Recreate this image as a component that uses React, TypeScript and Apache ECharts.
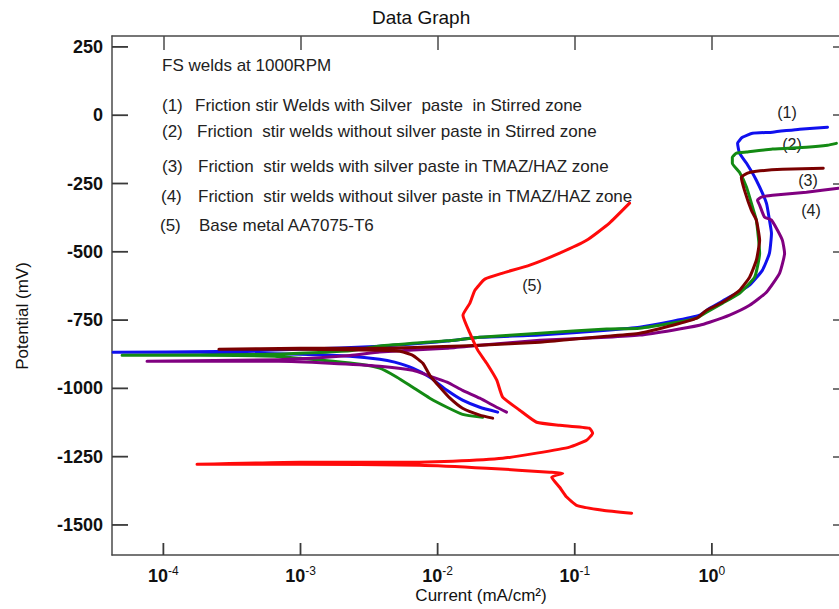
import React, { useEffect, useRef } from "react";
import * as echarts from "echarts";

// ---------- data ----------
const titleText = "Data Graph";
const xAxisTitle = "Current (mA/cm²)";
const yAxisTitle = "Potential (mV)";
const xMin = 4.22e-5;
const xMax = 10;
const yMin = -1610;
const yMax = 290;
const xDecadeTicks = [1e-4, 1e-3, 1e-2, 1e-1, 1];
const yTicks = [-1500, -1250, -1000, -750, -500, -250, 0, 250];

const noteHeading = "FS welds at 1000RPM";
const legendNumbers = ["(1)", "(2)", "(3)", "(4)", "(5)"];
const legendTexts = [
  "Friction stir Welds with Silver  paste  in Stirred zone",
  "Friction  stir welds without silver paste in Stirred zone",
  "Friction  stir welds with silver paste in TMAZ/HAZ zone",
  "Friction  stir welds without silver paste in TMAZ/HAZ zone",
  "Base metal AA7075-T6",
];

// [current mA/cm², potential mV] in scan order (cathodic end -> Ecorr -> anodic end)
const curve1 = [
  [0.0274, -1087], [0.0203, -1069], [0.0152, -1043], [0.0117, -1007], [0.00877, -959],
  [0.00658, -926], [0.00486, -904], [0.00378, -893], [0.00229, -882], [0.00099, -875],
  [0.000427, -871], [0.000185, -868], [0.000043, -868],
  [0.00025, -865], [0.00099, -857], [0.00378, -846], [0.0117, -827], [0.0203, -813],
  [0.0556, -805], [0.171, -787], [0.297, -776], [0.518, -754], [0.813, -732], [0.962, -707],
  [1.346, -666], [1.884, -622], [2.339, -567], [2.63, -505], [2.72, -432], [2.63, -384],
  [2.5, -322], [2.11, -238], [1.79, -176], [1.59, -139], [1.54, -103], [1.67, -81],
  [1.98, -66], [2.77, -62], [4.36, -51], [6.97, -44],
];

const curve2 = [
  [0.0213, -1106], [0.0152, -1095], [0.0117, -1069], [0.00877, -1036], [0.00658, -996],
  [0.00505, -959], [0.00378, -926], [0.00272, -912], [0.00173, -901], [0.00099, -890],
  [0.000649, -882], [0.000185, -879], [0.00005, -879],
  [0.00065, -875], [0.0023, -862], [0.00378, -845], [0.0117, -826], [0.0203, -813],
  [0.0556, -798], [0.171, -783], [0.297, -780], [0.518, -761], [0.774, -743], [0.915, -721],
  [1.197, -688], [1.59, -652], [2.05, -593], [2.23, -505], [2.11, -384], [1.98, -337],
  [1.79, -264], [1.59, -209], [1.41, -176], [1.41, -154], [1.51, -139], [1.79, -135],
  [2.77, -124], [4.89, -117], [6.97, -110], [8.09, -103],
];

const curve3 = [
  [0.0252, -1109], [0.0203, -1098], [0.0152, -1073], [0.0123, -1036], [0.0104, -996],
  [0.00877, -952], [0.0078, -908], [0.00658, -879], [0.00531, -864], [0.00378, -860],
  [0.00099, -857], [0.000254, -857],
  [0.00099, -853], [0.00378, -853], [0.0203, -842], [0.0556, -831], [0.096, -820],
  [0.171, -809], [0.297, -798], [0.518, -769], [0.774, -743], [0.915, -714], [1.197, -685],
  [1.59, -641], [1.884, -593], [2.11, -531], [2.23, -458], [2.11, -384], [1.94, -348],
  [1.73, -275], [1.64, -227], [1.82, -212], [2.11, -205], [3.27, -198], [6.49, -194],
];

const curve4 = [
  [0.0318, -1087], [0.0269, -1069], [0.0203, -1036], [0.0152, -1007], [0.0117, -977],
  [0.00877, -955], [0.00658, -934], [0.00378, -919], [0.00164, -908], [0.000695, -901],
  [0.000076, -901],
  [0.000695, -895], [0.0023, -880], [0.00378, -867], [0.0117, -853], [0.0203, -842],
  [0.0556, -824], [0.171, -813], [0.297, -805], [0.518, -787], [0.813, -769], [0.962, -758],
  [1.346, -732], [1.884, -696], [2.5, -648], [3.12, -578], [3.39, -505], [3.27, -458],
  [3.01, -421], [2.72, -384], [2.42, -373], [2.23, -329], [2.15, -311], [2.3, -300],
  [2.77, -293], [4.89, -282], [8.37, -267],
];

const curve5 = [
  [0.26, -1457], [0.16, -1446], [0.103, -1428], [0.0873, -1398], [0.0776, -1362],
  [0.0679, -1325], [0.0817, -1311], [0.0656, -1307], [0.0228, -1292], [0.0074, -1281],
  [0.00099, -1278], [0.000176, -1278],
  [0.00099, -1270], [0.0074, -1270], [0.0129, -1267], [0.0298, -1256], [0.0527, -1237],
  [0.0917, -1215], [0.122, -1190], [0.135, -1164], [0.128, -1146], [0.0776, -1135],
  [0.0527, -1124], [0.0397, -1080], [0.0298, -1032], [0.027, -970], [0.0228, -908],
  [0.0196, -860], [0.0172, -798], [0.0153, -732], [0.0172, -688], [0.0187, -641],
  [0.0221, -600], [0.0298, -578], [0.047, -549], [0.0776, -505], [0.122, -458],
  [0.179, -395], [0.251, -322],
];

const curveColors = ["#1010ee", "#138a13", "#800080", "#7a0000", "#ff0a0a"];

// ---------- component ----------
export default function App() {
  const ref = useRef<HTMLDivElement>(null);

  useEffect(() => {
    if (!ref.current) return;
    const chart = echarts.init(ref.current, null, { renderer: "svg" });
    const font = "'Liberation Sans', Arial, sans-serif";
    const axisColor = "#4a4a4a";

    const decadeFormatter = (v: number) => {
      const l = Math.log10(v);
      const e = Math.round(l);
      if (Math.abs(l - e) > 1e-6) return "";
      return `{b|10}{s|${e}}`;
    };

    const legendY = [105, 131, 166, 196, 225];
    const legendNumX = [162, 162, 162, 161, 160];
    const legendTextX = [195, 197, 198, 198, 199];

    const graphics: any[] = [
      {
        type: "text",
        x: 162,
        y: 65,
        style: { text: noteHeading, font: `17px ${font}`, fill: "#222", textVerticalAlign: "middle" },
      },
      {
        type: "text",
        x: 372,
        y: 17,
        style: { text: titleText, font: `19px ${font}`, fill: "#111", textVerticalAlign: "middle" },
      },
    ];
    legendNumbers.forEach((n, i) => {
      graphics.push({
        type: "text",
        x: legendNumX[i],
        y: legendY[i],
        style: { text: n, font: `17px ${font}`, fill: "#222", textVerticalAlign: "middle" },
      });
      graphics.push({
        type: "text",
        x: legendTextX[i],
        y: legendY[i],
        style: { text: legendTexts[i], font: `17px ${font}`, fill: "#222", textVerticalAlign: "middle" },
      });
    });
    const tagPos = [
      [787, 112],
      [792, 144],
      [808, 180],
      [811, 210],
      [532, 285],
    ];
    legendNumbers.forEach((n, i) => {
      graphics.push({
        type: "text",
        x: tagPos[i][0],
        y: tagPos[i][1],
        style: {
          text: n,
          font: `16px ${font}`,
          fill: "#222",
          textAlign: "center",
          textVerticalAlign: "middle",
        },
      });
    });
    graphics.push({
      type: "text",
      x: 22,
      y: 316,
      rotation: Math.PI / 2,
      style: {
        text: yAxisTitle,
        font: `17px ${font}`,
        fill: "#111",
        textAlign: "center",
        textVerticalAlign: "middle",
      },
    });
    graphics.push({
      type: "text",
      x: 481,
      y: 595,
      style: {
        text: xAxisTitle,
        font: `17px ${font}`,
        fill: "#111",
        textAlign: "center",
        textVerticalAlign: "middle",
      },
    });

    const lineOn = { show: true, onZero: false, lineStyle: { color: axisColor, width: 1.5 } };
    const xBase = {
      type: "log" as const,
      logBase: 10,
      min: xMin,
      max: xMax,
      splitLine: { show: false },
      minorTick: { show: false },
    };
    const yBase = {
      type: "value" as const,
      min: yMin,
      max: yMax,
      splitLine: { show: false },
    };
    const tickStyle = (length: number, values: number[]) => ({
      show: true,
      inside: true,
      length,
      customValues: values,
      lineStyle: { color: axisColor, width: 1.5 },
    });

    const curves = [curve1, curve2, curve4, curve3, curve5];
    const names = ["(1)", "(2)", "(4)", "(3)", "(5)"];
    const colors = [curveColors[0], curveColors[1], curveColors[2], curveColors[3], curveColors[4]];

    const lineSeries = curves.map((c, i) => ({
      type: "line",
      name: names[i],
      data: c,
      xAxisIndex: 0,
      yAxisIndex: 0,
      showSymbol: false,
      symbol: "none",
      smooth: 0.15,
      clip: true,
      lineStyle: { color: colors[i], width: 3, cap: "round", join: "round" },
      z: 2 + i,
    }));

    // bottom ticks (pointing up) and left ticks (pointing right), placed through the axes
    const bottomTickSeries = {
      type: "custom",
      xAxisIndex: 0,
      yAxisIndex: 0,
      clip: false,
      silent: true,
      z: 20,
      data: xDecadeTicks.map((v) => [v, yMin]),
      renderItem: (_p: any, api: any) => {
        const pt = api.coord([api.value(0), api.value(1)]);
        return {
          type: "rect",
          shape: { x: pt[0] - 0.9, y: pt[1] - 12, width: 1.8, height: 12 },
          style: { fill: "#3a3a3a" },
        };
      },
    };
    const leftTickSeries = {
      type: "custom",
      xAxisIndex: 0,
      yAxisIndex: 0,
      clip: false,
      silent: true,
      z: 20,
      data: yTicks.map((v) => [xMin, v]),
      renderItem: (_p: any, api: any) => {
        const pt = api.coord([api.value(0), api.value(1)]);
        return {
          type: "rect",
          shape: { x: pt[0], y: pt[1] - 0.9, width: 16, height: 1.8 },
          style: { fill: "#3a3a3a" },
        };
      },
    };

    chart.setOption({
      animation: false,
      backgroundColor: "#ffffff",
      grid: { left: 112, top: 36, width: 737, height: 519, containLabel: false },
      xAxis: [
        {
          ...xBase,
          position: "bottom",
          axisLine: lineOn,
          axisTick: { show: false },
          axisLabel: {
            show: true,
            customValues: xDecadeTicks,
            margin: 10,
            formatter: decadeFormatter,
            rich: {
              b: { fontFamily: font, fontSize: 18, fontWeight: "bold", color: "#111", lineHeight: 22 },
              s: { fontFamily: font, fontSize: 12, color: "#111", lineHeight: 12, verticalAlign: "top" },
            },
          },
        },
        {
          ...xBase,
          position: "top",
          axisLine: lineOn,
          axisTick: tickStyle(14, xDecadeTicks),
          axisLabel: { show: false },
        },
      ],
      yAxis: [
        {
          ...yBase,
          position: "left",
          axisLine: lineOn,
          axisTick: { show: false },
          axisLabel: {
            show: true,
            customValues: yTicks,
            margin: 9,
            fontFamily: font,
            fontSize: 18,
            fontWeight: "bold",
            color: "#111",
            formatter: (v: number) => String(v),
          },
        },
        {
          ...yBase,
          position: "right",
          axisLine: lineOn,
          axisTick: tickStyle(16, yTicks),
          axisLabel: { show: false },
        },
      ],
      series: [...lineSeries, bottomTickSeries, leftTickSeries],
      graphic: graphics,
    });

    return () => chart.dispose();
  }, []);

  return (
    <div style={{ position: "absolute", left: 0, top: 0, width: 839, height: 609, overflow: "hidden", background: "#fff" }}>
      <div ref={ref} style={{ width: 870, height: 609 }} />
    </div>
  );
}
